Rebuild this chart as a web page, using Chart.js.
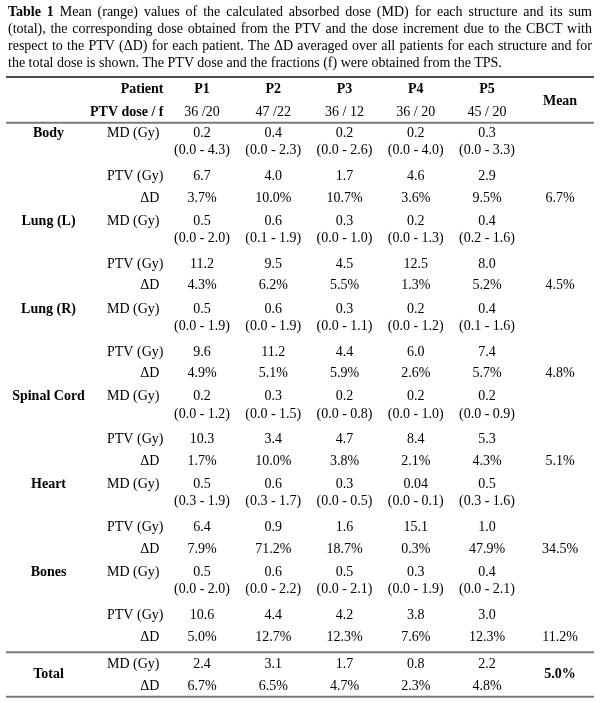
<!DOCTYPE html>
<html>
<head>
<meta charset="utf-8">
<script src="https://cdn.jsdelivr.net/npm/chart.js@4.4.0/dist/chart.umd.min.js"></script>
<style>
  html, body { margin: 0; padding: 0; background: #fff; }
  #wrap { position: relative; width: 600px; height: 703px; overflow: hidden; }
  #tbl { position: absolute; left: 0; top: 0; }
  #caption { position: absolute; left: 8px; top: 3px; width: 584px;
    font-family: "Liberation Serif", "Times New Roman", serif; font-size: 14px;
    line-height: 17px; color: #000; }
  #caption div { text-align: justify; text-align-last: justify; white-space: nowrap; }
  #caption div.last { text-align-last: left; }
</style>
</head>
<body>
<div id="wrap">
  <canvas id="tbl" width="600" height="703"></canvas>
  <div id="caption">
    <div><b>Table 1</b> Mean (range) values of the calculated absorbed dose (MD) for each structure and its sum</div>
    <div>(total), the corresponding dose obtained from the PTV and the dose increment due to the CBCT with</div>
    <div>respect to the PTV (ΔD) for each patient. The ΔD averaged over all patients for each structure and for</div>
    <div class="last">the total dose is shown. The PTV dose and the fractions (f) were obtained from the TPS.</div>
  </div>
</div>
<script>
// ---------------- DATA ----------------
const structures = ['Body', 'Lung (L)', 'Lung (R)', 'Spinal Cord', 'Heart', 'Bones'];
const patients = ['P1', 'P2', 'P3', 'P4', 'P5'];
const ptvDoseF = ['36 /20', '47 /22', '36 / 12', '36 / 20', '45 / 20'];
const rowLabels = ['MD (Gy)', 'PTV (Gy)', 'ΔD'];

const mdValues = [
  [0.2, 0.4, 0.2, 0.2, 0.3],
  [0.5, 0.6, 0.3, 0.2, 0.4],
  [0.5, 0.6, 0.3, 0.2, 0.4],
  [0.2, 0.3, 0.2, 0.2, 0.2],
  [0.5, 0.6, 0.3, 0.04, 0.5],
  [0.5, 0.6, 0.5, 0.3, 0.4]
];
const rangeMin = [
  [0.0, 0.0, 0.0, 0.0, 0.0],
  [0.0, 0.1, 0.0, 0.0, 0.2],
  [0.0, 0.0, 0.0, 0.0, 0.1],
  [0.0, 0.0, 0.0, 0.0, 0.0],
  [0.3, 0.3, 0.0, 0.0, 0.3],
  [0.0, 0.0, 0.0, 0.0, 0.0]
];
const rangeMax = [
  [4.3, 2.3, 2.6, 4.0, 3.3],
  [2.0, 1.9, 1.0, 1.3, 1.6],
  [1.9, 1.9, 1.1, 1.2, 1.6],
  [1.2, 1.5, 0.8, 1.0, 0.9],
  [1.9, 1.7, 0.5, 0.1, 1.6],
  [2.0, 2.2, 2.1, 1.9, 2.1]
];
const ptvValues = [
  [6.7, 4.0, 1.7, 4.6, 2.9],
  [11.2, 9.5, 4.5, 12.5, 8.0],
  [9.6, 11.2, 4.4, 6.0, 7.4],
  [10.3, 3.4, 4.7, 8.4, 5.3],
  [6.4, 0.9, 1.6, 15.1, 1.0],
  [10.6, 4.4, 4.2, 3.8, 3.0]
];
const deltaD = [
  [3.7, 10.0, 10.7, 3.6, 9.5],
  [4.3, 6.2, 5.5, 1.3, 5.2],
  [4.9, 5.1, 5.9, 2.6, 5.7],
  [1.7, 10.0, 3.8, 2.1, 4.3],
  [7.9, 71.2, 18.7, 0.3, 47.9],
  [5.0, 12.7, 12.3, 7.6, 12.3]
];
const meanDeltaD = [6.7, 4.5, 4.8, 5.1, 34.5, 11.2];
const totalMD = [2.4, 3.1, 1.7, 0.8, 2.2];
const totalDeltaD = [6.7, 6.5, 4.7, 2.3, 4.8];
const totalMeanDeltaD = 5.0;

// ---------------- LAYOUT (scale units) ----------------
// x: one unit per patient column; y: one unit per sub-row
const X = { struct: -2.154, labelLeft: -1.333, labelRight: -0.54, ddRight: -0.60, mean: 5.025 };
const Y = { top: -2.565, patient: -2.018, dose: -0.975, meanHead: -1.47, headRule: -0.48,
  blockStep: 4, md: 0, range: 0.784, ptv: 1.96, dd: 2.94,
  totMD: 24.18, totLabel: 24.63, totDD: 25.18, totRule: 23.64, bottom: 25.67 };
const FONT = '"Liberation Serif", "Times New Roman", serif';

const fmt = v => v.toFixed(v > 0 && v < 0.1 ? 2 : 1);
const pct = v => v.toFixed(1) + '%';

// ---------------- CELLS ----------------
const cells = [];
function cell(x, y, text, bold, align) { cells.push({ x, y, text, bold: !!bold, align: align || 'center' }); }

cell(X.labelRight, Y.patient, 'Patient', true, 'right');
cell(X.labelRight, Y.dose, 'PTV dose / f', true, 'right');
patients.forEach((p, j) => { cell(j, Y.patient, p, true); cell(j, Y.dose, ptvDoseF[j]); });
cell(X.mean, Y.meanHead, 'Mean', true);

structures.forEach((s, i) => {
  const b = i * Y.blockStep;
  cell(X.struct, b + Y.md, s, true);
  cell(X.labelLeft, b + Y.md, rowLabels[0], false, 'left');
  cell(X.labelLeft, b + Y.ptv, rowLabels[1], false, 'left');
  cell(X.ddRight, b + Y.dd, rowLabels[2], false, 'right');
  patients.forEach((p, j) => {
    cell(j, b + Y.md, fmt(mdValues[i][j]));
    cell(j, b + Y.range, '(' + fmt(rangeMin[i][j]) + ' - ' + fmt(rangeMax[i][j]) + ')');
    cell(j, b + Y.ptv, fmt(ptvValues[i][j]));
    cell(j, b + Y.dd, pct(deltaD[i][j]));
  });
  cell(X.mean, b + Y.dd, pct(meanDeltaD[i]));
});

cell(X.struct, Y.totLabel, 'Total', true);
cell(X.labelLeft, Y.totMD, rowLabels[0], false, 'left');
cell(X.ddRight, Y.totDD, rowLabels[2], false, 'right');
patients.forEach((p, j) => {
  cell(j, Y.totMD, fmt(totalMD[j]));
  cell(j, Y.totDD, pct(totalDeltaD[j]));
});
cell(X.mean, Y.totLabel, pct(totalMeanDeltaD), true);

const rules = [
  { y: Y.top, color: '#111', width: 1.5 },
  { y: Y.headRule, color: '#7a7a7a', width: 2 },
  { y: Y.totRule, color: '#7a7a7a', width: 2 },
  { y: Y.bottom, color: '#7a7a7a', width: 2 }
];

// ---------------- PLUGIN ----------------
const tablePlugin = {
  id: 'tableText',
  afterDatasetsDraw(chart) {
    const ctx = chart.ctx;
    const ys = chart.scales.y;
    ctx.save();
    rules.forEach(r => {
      const py = ys.getPixelForValue(r.y);
      ctx.strokeStyle = r.color;
      ctx.lineWidth = r.width;
      ctx.beginPath();
      ctx.moveTo(6, py);
      ctx.lineTo(594, py);
      ctx.stroke();
    });
    const meta = chart.getDatasetMeta(0);
    ctx.fillStyle = '#000';
    ctx.textBaseline = 'middle';
    meta.data.forEach((el, k) => {
      const c = chart.data.datasets[0].data[k];
      ctx.font = (c.bold ? 'bold ' : '') + '14px ' + FONT;
      ctx.textAlign = c.align;
      ctx.fillText(c.text, el.x, el.y);
    });
    ctx.restore();
  }
};

new Chart(document.getElementById('tbl'), {
  type: 'scatter',
  data: { datasets: [{ data: cells, pointRadius: 0, pointHoverRadius: 0, showLine: false }] },
  options: {
    responsive: false,
    animation: false,
    events: [],
    layout: { padding: 0 },
    parsing: { xAxisKey: 'x', yAxisKey: 'y' },
    plugins: { legend: { display: false }, tooltip: { enabled: false }, title: { display: false } },
    scales: {
      x: { type: 'linear', display: false, min: -2.835, max: 5.586 },
      y: { type: 'linear', display: false, reverse: true, min: -6.073, max: 25.954 }
    }
  },
  plugins: [tablePlugin]
});
</script>
</body>
</html>
